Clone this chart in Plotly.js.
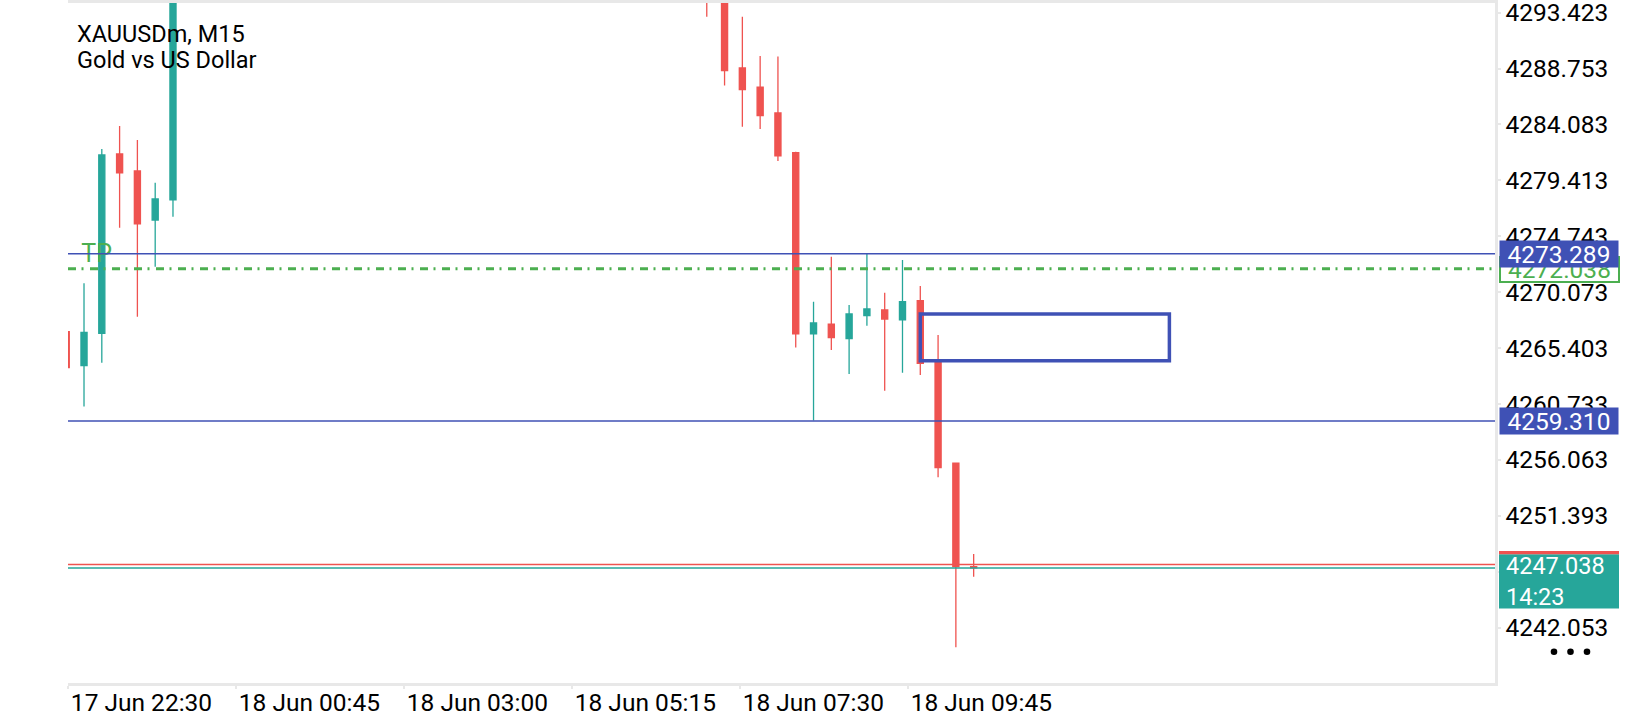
<!DOCTYPE html>
<html>
<head>
<meta charset="utf-8">
<script src="https://cdn.plot.ly/plotly-3.0.1.min.js"></script>
<style>
  html, body { margin: 0; padding: 0; background: #ffffff; }
  #chart { width: 1640px; height: 720px; }
</style>
</head>
<body>
<div id="chart"></div>
<script>
// ---- data ----
const symbolName = 'XAUUSDm, M15';
const symbolDesc = 'Gold vs US Dollar';

// bar index on the M15 time scale (bars 7..35 lie above the visible price range)
const barIndex = [0, 1, 2, 3, 4, 5, 6,
  36, 37, 38, 39, 40, 41, 42, 43, 44, 45, 46, 47, 48, 49, 50, 51];
const openPrices = [4266.77, 4263.93, 4266.64, 4281.62, 4280.20, 4276.10, 4277.78,
  4296.80, 4295.40, 4288.80, 4287.21, 4285.04, 4281.73, 4266.58, 4267.41, 4266.19,
  4268.11, 4268.58, 4267.75, 4269.36, 4264.21, 4255.78, 4247.14];
const highPrices = [4267.10, 4270.82, 4282.03, 4283.96, 4282.79, 4279.22, 4297.00,
  4297.50, 4296.00, 4293.09, 4289.80, 4289.75, 4281.81, 4269.28, 4273.04, 4269.00,
  4273.26, 4270.03, 4272.76, 4270.59, 4266.49, 4255.85, 4248.20];
const lowPrices = [4263.40, 4260.51, 4264.18, 4275.46, 4268.02, 4272.20, 4276.38,
  4293.09, 4287.33, 4283.90, 4283.70, 4281.03, 4265.44, 4259.35, 4265.24, 4263.24,
  4267.27, 4261.84, 4263.35, 4263.15, 4254.61, 4240.40, 4246.30];
const closePrices = [4263.77, 4266.72, 4281.53, 4280.05, 4275.77, 4277.86, 4296.50,
  4295.40, 4288.58, 4286.99, 4284.82, 4281.47, 4266.58, 4267.50, 4266.27, 4268.25,
  4268.67, 4267.83, 4269.28, 4264.13, 4255.41, 4247.14, 4247.038];

const timeLabels = ['17 Jun 22:30', '18 Jun 00:45', '18 Jun 03:00',
  '18 Jun 05:15', '18 Jun 07:30', '18 Jun 09:45'];
const priceTickLabels = ['4293.423', '4288.753', '4284.083', '4279.413', '4274.743',
  '4270.073', '4265.403', '4260.733', '4256.063', '4251.393', '4246.723', '4242.053'];

const resistanceLevel = 4273.289;
const supportLevel = 4259.310;
const takeProfit = 4272.038;
const bidPrice = 4247.038;
const askPrice = 4247.31;
const barCountdown = '14:23';
const zoneBars = [48, 62];
const zonePrices = [4264.35, 4268.25];

// ---- styles ----
const UP = '#26a69a', DOWN = '#ef5350', BLUE = '#3f51b5', GREEN = '#4caf50';
const FRAME = '#e8e8e8';
const FONT = 'Roboto, "Noto Sans", sans-serif';
const AXIS_FONT = 24.5;

const traces = [
  {
    type: 'scatter', mode: 'text',
    x: [0.85], y: [takeProfit], text: ['TP'],
    textposition: 'top right',
    textfont: { family: FONT, size: 25, color: GREEN },
    hoverinfo: 'skip', showlegend: false
  },
  {
    type: 'candlestick',
    x: barIndex, open: openPrices, high: highPrices, low: lowPrices, close: closePrices,
    increasing: { line: { color: UP, width: 1.3 }, fillcolor: UP },
    decreasing: { line: { color: DOWN, width: 1.3 }, fillcolor: DOWN },
    whiskerwidth: 0,
    hoverinfo: 'skip', showlegend: false
  }
];

function hline(y, color, width, dash) {
  return { type: 'line', xref: 'paper', x0: 0, x1: 1, yref: 'y', y0: y, y1: y,
    line: { color: color, width: width, dash: dash || 'solid' }, layer: 'above' };
}

const shapes = [
  hline(resistanceLevel, BLUE, 1.5),
  hline(supportLevel, BLUE, 1.5),
  hline(takeProfit, GREEN, 3, '8px,5.5px,2px,6.5px'),
  hline(askPrice, DOWN, 1.5),
  hline(bidPrice, UP, 1.5),
  { type: 'rect', xref: 'x', yref: 'y', x0: zoneBars[0], x1: zoneBars[1],
    y0: zonePrices[0], y1: zonePrices[1],
    line: { color: BLUE, width: 3.5 }, fillcolor: 'rgba(0,0,0,0)', layer: 'above' },
  // bid price box with ask strip
  { type: 'rect', xref: 'paper', xsizemode: 'pixel', xanchor: 1, x0: 4, x1: 124,
    yref: 'y', ysizemode: 'pixel', yanchor: bidPrice, y0: 13.6, y1: -40.5,
    line: { width: 0 }, fillcolor: UP, layer: 'above' },
  { type: 'rect', xref: 'paper', xsizemode: 'pixel', xanchor: 1, x0: 4, x1: 124,
    yref: 'y', ysizemode: 'pixel', yanchor: bidPrice, y0: 13.6, y1: 16.8,
    line: { width: 0 }, fillcolor: DOWN, layer: 'above' }
];
// three-dot menu
[59, 75.5, 92].forEach(function (cx) {
  shapes.push({ type: 'circle', xref: 'paper', xsizemode: 'pixel', xanchor: 1,
    x0: cx - 3.3, x1: cx + 3.3, yref: 'paper', ysizemode: 'pixel', yanchor: 0,
    y0: 28, y1: 34.6, line: { width: 0 }, fillcolor: '#000000', layer: 'above' });
});

const annotations = [
  { xref: 'paper', yref: 'paper', x: 0, y: 1, xanchor: 'left', yanchor: 'middle',
    xshift: 7, yshift: -31, text: symbolName, showarrow: false,
    font: { family: FONT, size: 23.5, color: '#000000' } },
  { xref: 'paper', yref: 'paper', x: 0, y: 1, xanchor: 'left', yanchor: 'middle',
    xshift: 7, yshift: -57, text: symbolDesc, showarrow: false,
    font: { family: FONT, size: 23.5, color: '#000000' } },
  // take profit label
  { xref: 'paper', yref: 'y', x: 1, y: takeProfit, xanchor: 'left', yanchor: 'middle',
    xshift: 4, yshift: -1, text: takeProfit.toFixed(3), showarrow: false,
    width: 117, height: 23, borderpad: 0, borderwidth: 2, bordercolor: GREEN,
    bgcolor: '#ffffff', align: 'center',
    font: { family: FONT, size: AXIS_FONT, color: GREEN } },
  // resistance / support labels
  { xref: 'paper', yref: 'y', x: 1, y: resistanceLevel, xanchor: 'left', yanchor: 'middle',
    xshift: 4, text: resistanceLevel.toFixed(3), showarrow: false,
    width: 118, height: 26, borderpad: 0, bgcolor: BLUE, align: 'center',
    font: { family: FONT, size: AXIS_FONT, color: '#ffffff' } },
  { xref: 'paper', yref: 'y', x: 1, y: supportLevel, xanchor: 'left', yanchor: 'middle',
    xshift: 4, text: supportLevel.toFixed(3), showarrow: false,
    width: 118, height: 26, borderpad: 0, bgcolor: BLUE, align: 'center',
    font: { family: FONT, size: AXIS_FONT, color: '#ffffff' } },
  // bid label text
  { xref: 'paper', yref: 'y', x: 1, y: bidPrice, xanchor: 'left', yanchor: 'middle',
    xshift: 9, yshift: -13.6, text: bidPrice.toFixed(3) + '<br>' + barCountdown,
    showarrow: false, align: 'left',
    font: { family: FONT, size: 23.5, color: '#ffffff' } }
];

const layout = {
  width: 1640, height: 720,
  margin: { l: 68, r: 145, t: 3, b: 37, pad: 0 },
  paper_bgcolor: '#ffffff', plot_bgcolor: '#ffffff',
  showlegend: false, hovermode: false, dragmode: false,
  boxgap: 0.51,
  xaxis: {
    type: 'linear', range: [0.1, 80.3],
    tickvals: timeLabels.map(function (_, i) { return 0.12 + i * 9.44; }),
    ticktext: timeLabels,
    ticklabelposition: 'outside right',
    ticklabelstandoff: -4,
    ticks: 'outside', ticklen: 3, tickwidth: 2, tickcolor: FRAME,
    showline: true, linecolor: FRAME, linewidth: 3, mirror: true,
    showgrid: false, zeroline: false, rangeslider: { visible: false }, fixedrange: true,
    tickfont: { family: FONT, size: AXIS_FONT, color: '#000000' }
  },
  yaxis: {
    side: 'right', range: [4237.42, 4294.23],
    tickvals: priceTickLabels.map(Number), ticktext: priceTickLabels,
    ticks: 'outside', ticklen: 3, tickwidth: 2, tickcolor: FRAME,
    ticklabeloverflow: 'allow',
    showline: true, linecolor: FRAME, linewidth: 2.5, mirror: false,
    showgrid: false, zeroline: false, fixedrange: true,
    tickfont: { family: FONT, size: AXIS_FONT, color: '#000000' }
  },
  shapes: shapes,
  annotations: annotations
};

Plotly.newPlot('chart', traces, layout, { staticPlot: true, displayModeBar: false });
</script>
</body>
</html>
